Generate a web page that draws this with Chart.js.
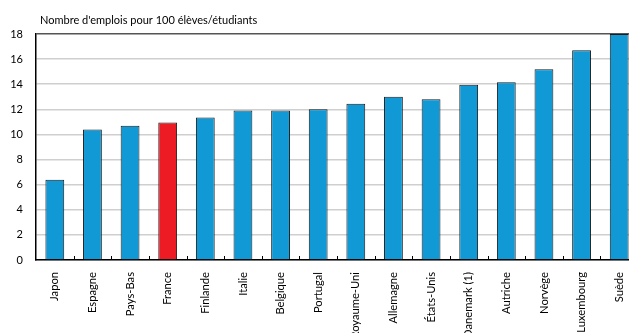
<!DOCTYPE html>
<html lang="fr">
<head>
  <meta charset="UTF-8">
  <title>Nombre d'emplois pour 100 élèves/étudiants</title>
  <script src="https://cdn.jsdelivr.net/npm/chart.js"></script>
<style>
  html, body {
    margin: 0;
    padding: 0;
    background: #fff;
    overflow: hidden;
  }
  .chart-box {
    width: 640px;
    height: 333px;
  }
</style>
</head>
<body>
  <div class="chart-box">
    <canvas id="jobsChart" width="640" height="333"></canvas>
  </div>
  <script>
    // Data
    const categories = ['Japon', 'Espagne', 'Pays-Bas', 'France', 'Finlande', 'Italie', 'Belgique', 'Portugal',
      'Royaume-Uni', 'Allemagne', 'États-Unis', 'Danemark (1)', 'Autriche', 'Norvège', 'Luxembourg', 'Suède'];
    const values = [6.4, 10.4, 10.7, 10.95, 11.35, 11.9, 11.9, 12.0, 12.45, 13.0, 12.8, 13.95, 14.15, 15.2, 16.7, 18.0];
    const highlighted = ['France'];
    const yMin = 0, yMax = 18, yStep = 2;
    const chartTitle = "Nombre d'emplois pour 100 élèves/étudiants";

    const FONT = 'Lato, "Open Sans", sans-serif';
    const BLUE = '#1199d6';
    const RED = '#ed1c24';

    // small inward ticks between categories + title above the plot
    const extras = {
      id: 'extras',
      afterDatasetsDraw(chart) {
        const { ctx, chartArea } = chart;
        const x = chart.scales.x;
        const n = categories.length;
        const step = (x.right - x.left) / n;
        ctx.save();
        ctx.strokeStyle = '#000';
        ctx.lineWidth = 1;
        for (let i = 1; i < n; i++) {
          const px = Math.round(x.left + i * step) + 0.5;
          ctx.beginPath();
          ctx.moveTo(px, chartArea.bottom);
          ctx.lineTo(px, chartArea.bottom - 4);
          ctx.stroke();
        }
        ctx.fillStyle = '#000';
        ctx.font = '11px ' + FONT;
        ctx.textBaseline = 'middle';
        ctx.fillText(chartTitle, chartArea.left + 4, chartArea.top - 14);
        ctx.restore();
      }
    };

    new Chart(document.getElementById('jobsChart'), {
      type: 'bar',
      data: {
        labels: categories,
        datasets: [{
          data: values,
          backgroundColor: categories.map(c => highlighted.includes(c) ? RED : BLUE),
          borderColor: '#1a1a1a',
          borderWidth: 1,
          barPercentage: 0.5,
          categoryPercentage: 1.0
        }]
      },
      options: {
        responsive: false,
        animation: false,
        layout: { padding: { top: 34, right: 2, bottom: 0, left: 0 } },
        plugins: {
          legend: { display: false },
          tooltip: { enabled: false }
        },
        scales: {
          x: {
            grid: { display: false },
            border: { display: true, color: '#000', width: 1.5 },
            ticks: {
              autoSkip: false,
              minRotation: 90,
              maxRotation: 90,
              padding: 4,
              color: '#000',
              font: { family: FONT, size: 11.2 }
            },
            afterFit(scale) { scale.height = 73; }
          },
          y: {
            min: yMin,
            max: yMax,
            ticks: {
              stepSize: yStep,
              padding: 13,
              color: '#000',
              font: { family: FONT, size: 11 }
            },
            grid: {
              drawTicks: false,
              lineWidth: 1.5,
              color: ctx => ctx.tick && ctx.tick.value === yMax ? '#555' : '#cfcfcf'
            },
            border: { display: true, color: '#000', width: 1.5 },
            afterFit(scale) { scale.width = 36; }
          }
        }
      },
      plugins: [extras]
    });
  </script>
</body>
</html>
